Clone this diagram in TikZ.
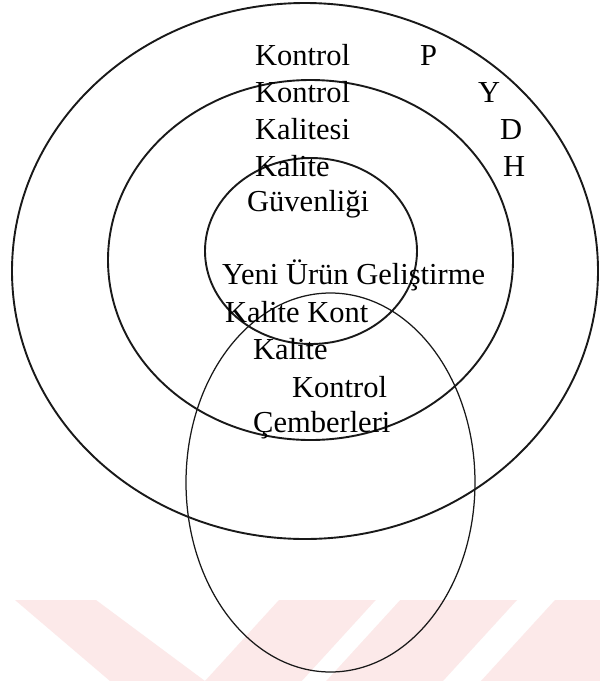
\documentclass[tikz,border=0pt]{standalone}
\usepackage{fontspec}
\setmainfont{Liberation Serif}
\definecolor{wmpink}{RGB}{252,233,233}
\definecolor{ink}{RGB}{25,25,25}
\begin{document}
\begin{tikzpicture}[x=1pt,y=-1pt,
  ring/.style={line width=1.9pt, draw=ink},
  thinring/.style={line width=1.25pt, draw=ink},
  lbl/.style={anchor=base west, inner sep=0pt, font=\fontsize{30.5}{36}\selectfont, text=black},
  wm/.style={fill=wmpink, draw=none}]
\useasboundingbox (0,0) rectangle (600,681);
\fill[white] (0,0) rectangle (600,681);
% watermark
\fill[wm] (15,600) -- (96,600) -- (205,681) -- (110,681) -- cycle;
\fill[wm] (279,600) -- (517,600) -- (443,681) -- (205,681) -- cycle;
\fill[white] (376,600) -- (400,600) -- (326,681) -- (302,681) -- cycle;
\fill[wm] (555,600) -- (600,600) -- (600,681) -- (481,681) -- cycle;
% rings
\draw[ring] (305,271) ellipse [x radius=293, y radius=268];
\draw[ring] (310.5,260) ellipse [x radius=202.5, y radius=180];
\draw[ring] (311,251) ellipse [x radius=106, y radius=93];
\draw[thinring] (330.5,482.5) ellipse [x radius=144.5, y radius=189.5];
% labels
\node[lbl] (k1) at (255,65) {Kontrol};
\node[lbl] (p) at (420,65) {P};
\node[lbl] (k2) at (255,102) {Kontrol};
\node[lbl] (y) at (478,102) {Y};
\node[lbl] (k3) at (255,139) {Kalitesi};
\node[lbl] (d) at (500,139) {D};
\node[lbl] (k4) at (255,176) {Kalite};
\node[lbl] (h) at (503,176) {H};
\node[lbl] (g) at (247,211) {Güvenliği};
\node[lbl] (yu) at (222,284) {Yeni Ürün Geliştirme};
\node[lbl] (kk) at (225,322) {Kalite Kont};
\node[lbl] (ka) at (253,359) {Kalite};
\node[lbl] (ko) at (292,397) {Kontrol};
\node[lbl] (ce) at (253,432) {Çemberleri};
\end{tikzpicture}
\end{document}
